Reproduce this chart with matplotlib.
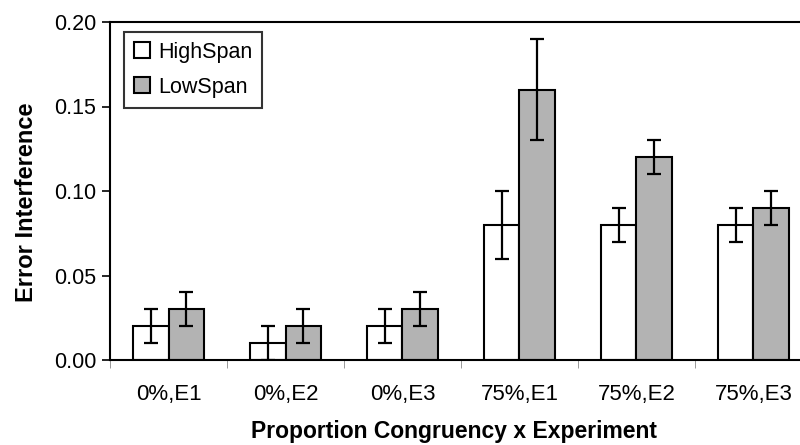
import matplotlib
matplotlib.use("Agg")
import matplotlib.pyplot as plt
import numpy as np

plt.rcParams['font.family'] = ['Liberation Sans', 'DejaVu Sans']

categories = ["0%,E1", "0%,E2", "0%,E3", "75%,E1", "75%,E2", "75%,E3"]
high_span = [0.02, 0.01, 0.02, 0.08, 0.08, 0.08]
high_err = [0.01, 0.01, 0.01, 0.02, 0.01, 0.01]
low_span = [0.03, 0.02, 0.03, 0.16, 0.12, 0.09]
low_err = [0.01, 0.01, 0.01, 0.03, 0.01, 0.01]
yticks = [0.00, 0.05, 0.10, 0.15, 0.20]

fig = plt.figure(figsize=(8, 4.45), dpi=100)
ax = fig.add_axes([110/800, 85/445, 702/800, 338/445])

x = np.arange(len(categories))
w = 0.3
ekw = dict(elinewidth=1.6, capthick=1.6, capsize=5, ecolor='black')
ax.bar(x - w/2, high_span, w, color='white', edgecolor='black', linewidth=1.5,
       yerr=high_err, error_kw=ekw, label='HighSpan', zorder=2)
ax.bar(x + w/2, low_span, w, color='#b3b3b3', edgecolor='black', linewidth=1.5,
       yerr=low_err, error_kw=ekw, label='LowSpan', zorder=2)

ax.set_xlim(-0.5, len(categories) - 0.5)
ax.set_ylim(0, 0.20)
ax.set_yticks(yticks)
ax.set_yticklabels([f"{v:.2f}" for v in yticks], fontsize=15.5)
ax.set_xticks(x)
ax.set_xticklabels(categories, fontsize=16)
ax.tick_params(axis='x', length=0, pad=17)
ax.set_xticks(np.arange(len(categories) + 1) - 0.5, minor=True)
ax.tick_params(axis='x', which='minor', length=6, color='#888888')
ax.tick_params(axis='y', length=6, width=1.2, direction='out', pad=4)

for s in ax.spines.values():
    s.set_linewidth(1.5)

ax.set_ylabel("Error Interference", fontsize=17, fontweight='bold')
ax.yaxis.set_label_coords(-0.103, 0.467)
ax.set_xlabel("Proportion Congruency x Experiment", fontsize=16.5, fontweight='bold')
ax.xaxis.set_label_coords(0.49, -0.177)

leg = ax.legend(loc='upper left', bbox_to_anchor=(0.02, 0.97), fontsize=15.5,
                frameon=True, fancybox=False, edgecolor='black', borderaxespad=0,
                handlelength=0.75, handleheight=0.75, handletextpad=0.4,
                borderpad=0.45, labelspacing=0.65)
leg.get_frame().set_linewidth(1.5)

fig.savefig("out.png", dpi=100)
